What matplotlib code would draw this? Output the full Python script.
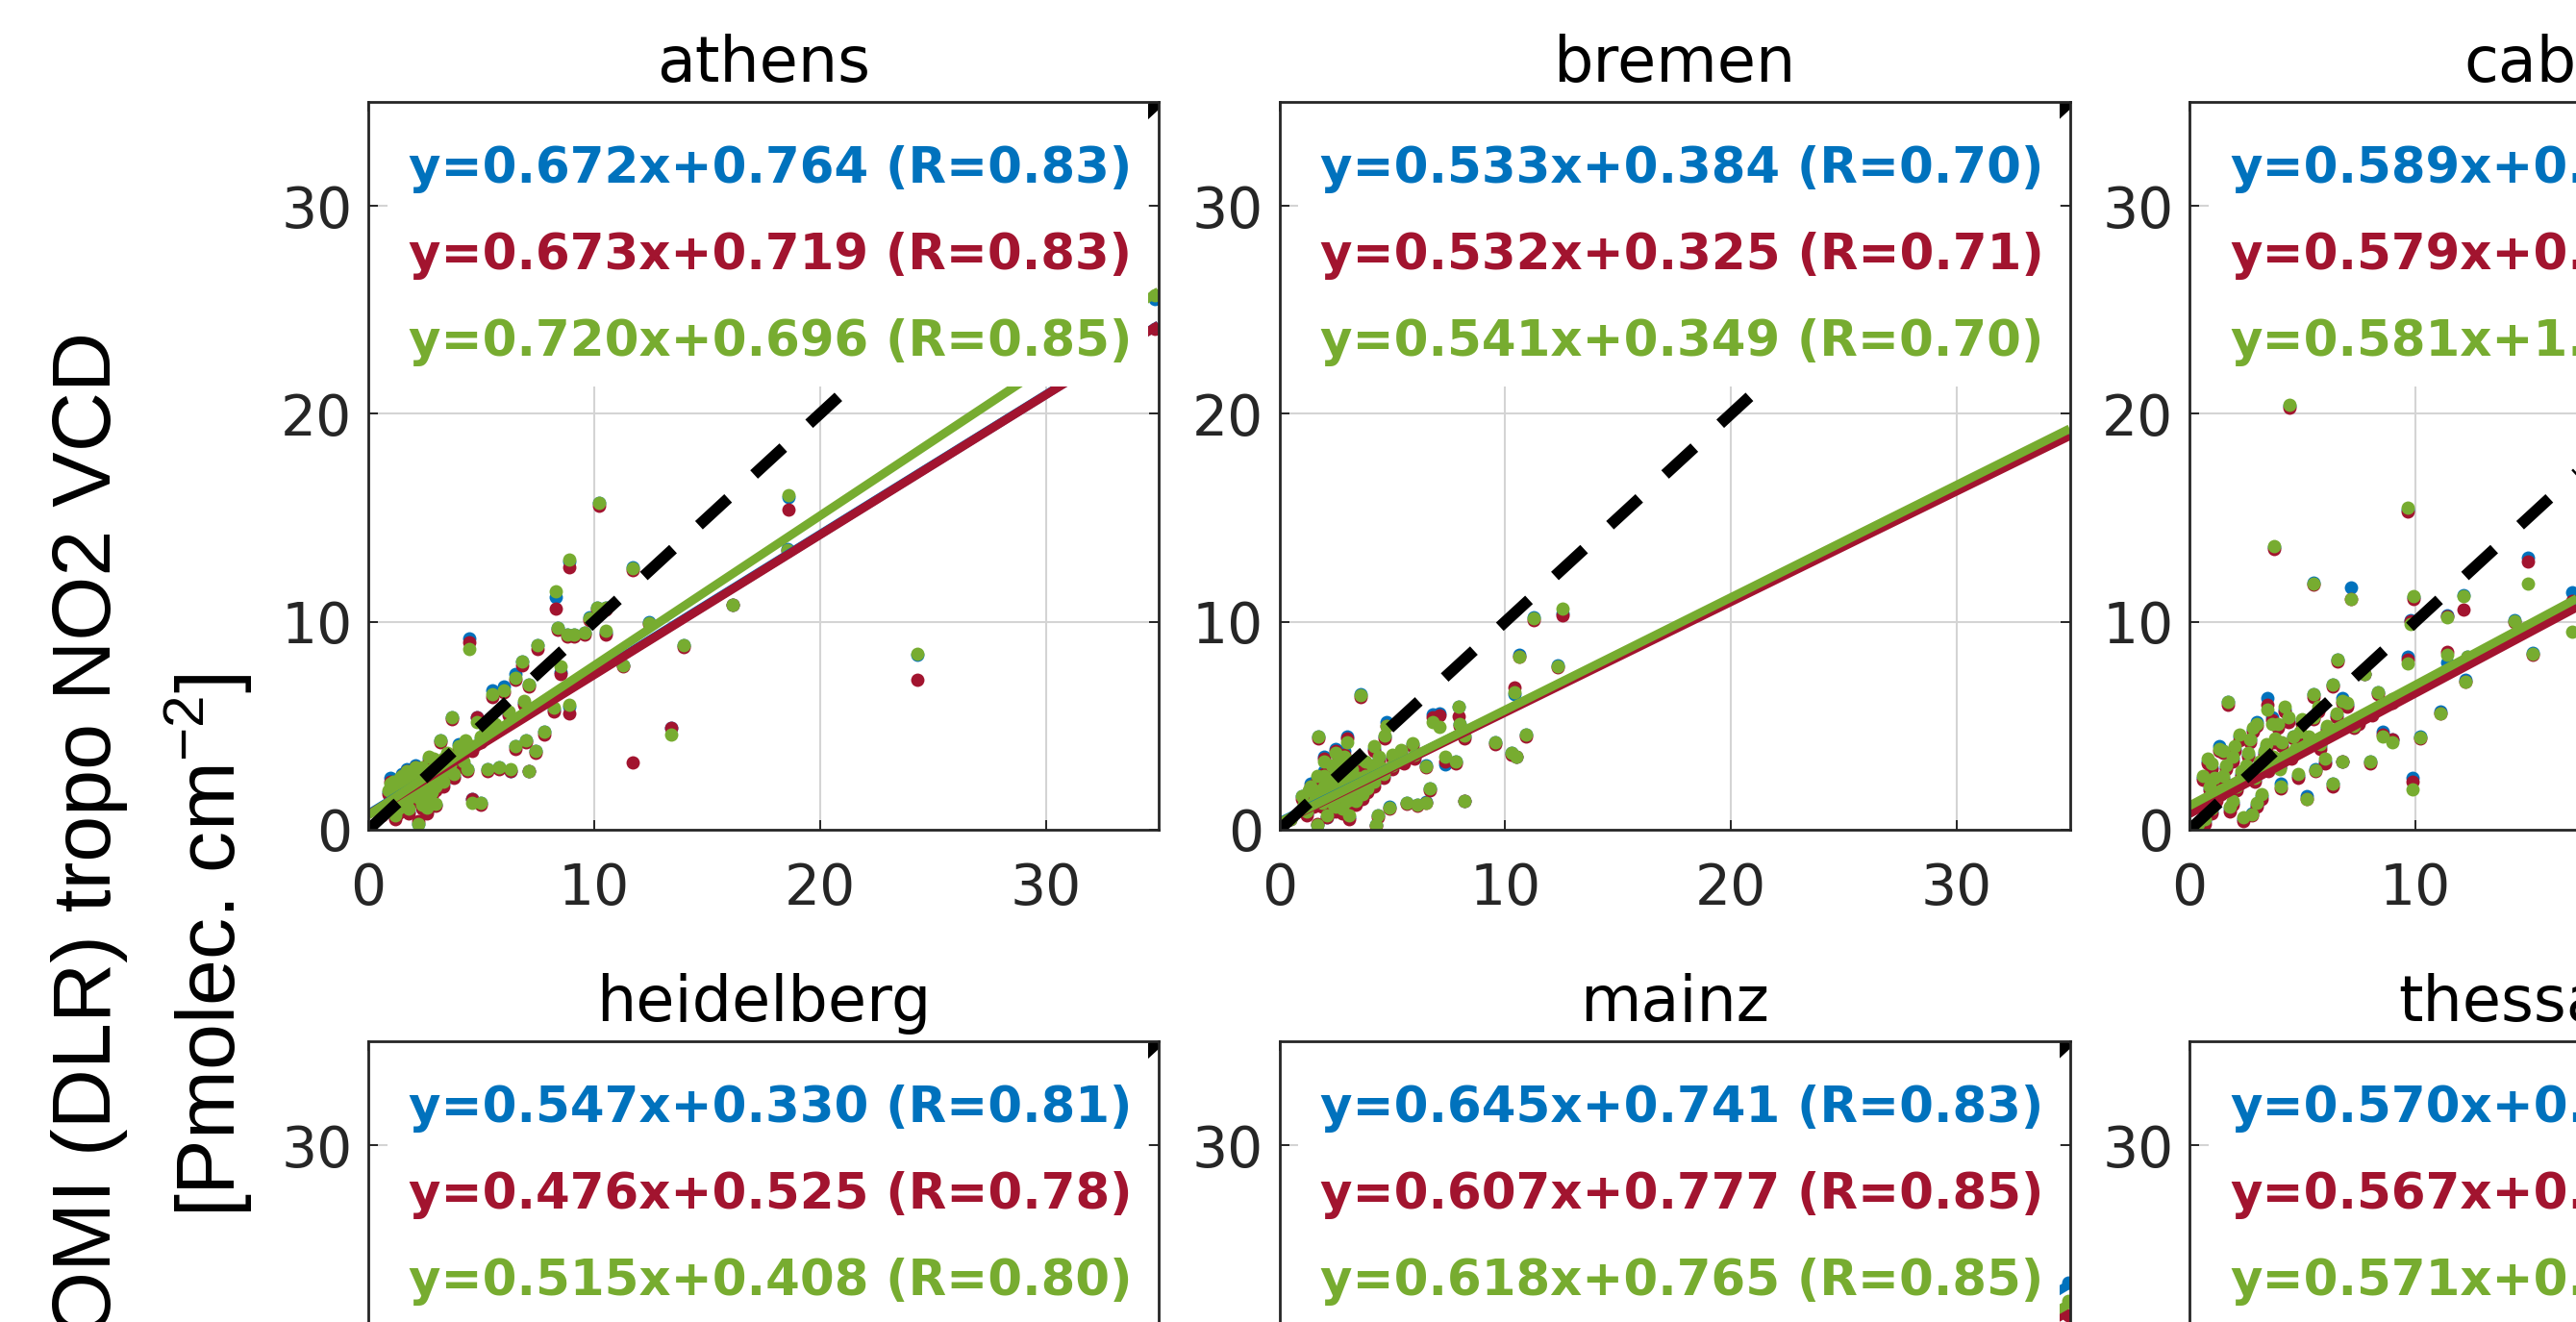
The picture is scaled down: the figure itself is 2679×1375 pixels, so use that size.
import numpy as np
import matplotlib
matplotlib.use('Agg')
import matplotlib.pyplot as plt
from matplotlib.patches import Rectangle

# ---- data -----------------------------------------------------------------
# each site: x, then y for the three series (blue, red, green)
athens_x = [0.8, 1.0, 1.1, 1.2, 1.3, 1.4, 1.5, 1.6, 1.7, 1.8, 1.9, 2.0, 2.1, 2.2,
            2.3, 2.4, 2.5, 2.6, 2.7, 2.8, 2.9, 3.0, 3.1, 3.2, 3.3, 3.5, 3.7, 3.8,
            4.0, 4.2, 4.4, 4.48, 4.6, 4.8, 5.0, 5.0, 5.3, 5.5, 5.8, 6.0, 6.3, 6.5,
            6.5, 6.8, 7.0, 7.1, 7.1, 7.4, 7.5, 7.8, 8.2, 8.3, 8.4, 8.5, 8.8, 8.9,
            8.9, 9.1, 9.6, 9.8, 10.15, 10.23, 10.5, 10.5, 11.3, 11.7, 11.7, 12.45,
            13.4, 13.95, 16.15, 18.6, 18.55, 24.3, 34.85,
            0.6, 0.9, 1.0, 1.1, 1.2, 1.3, 1.4, 1.5, 1.6, 1.7, 1.8, 1.9, 2.0, 2.1,
            2.2, 2.3, 2.4, 2.5, 2.6, 2.7, 2.8, 2.9, 3.0, 3.1, 3.3, 3.4, 3.6, 3.9,
            4.1, 4.3, 4.6, 5.2, 5.6, 6.2, 6.9]
athens_blue = [1.0, 2.5, 1.5, 0.6, 2.0, 1.2, 2.7, 1.8, 2.9, 0.9, 2.3, 1.5, 3.1, 0.3,
               2.0, 1.1, 2.6, 0.9, 3.4, 1.7, 2.4, 1.2, 3.0, 4.3, 2.2, 3.6, 5.4, 2.6,
               4.1, 3.2, 2.9, 9.2, 1.5, 5.4, 1.3, 4.4, 2.9, 6.7, 3.0, 6.9, 2.8, 4.0,
               7.5, 8.1, 4.3, 7.0, 2.8, 3.8, 8.9, 4.7, 5.8, 11.2, 9.7, 7.6, 9.4, 12.9,
               5.9, 9.4, 9.5, 10.2, 10.7, 15.7, 9.5, 10.7, 7.9, np.nan, 12.6, 10.0,
               4.9, 8.9, 10.8, 16.0, 13.5, 8.4, 25.5,
               0.8, 1.8, 1.2, 2.2, 1.7, 0.9, 2.4, 1.6, 2.1, 1.3, 1.9, 2.7, 2.2, 1.8,
               2.5, 1.4, 2.9, 1.9, 2.3, 1.5, 2.8, 3.3, 2.0, 2.6, 3.3, 2.7, 3.0, 3.4,
               3.7, 4.2, 3.9, 4.8, 5.0, 5.6, 6.1]
athens_red = [0.9, 2.3, 1.4, 0.5, 1.9, 1.1, 2.6, 1.7, 2.8, 0.8, 2.2, 1.4, 3.0, 0.4,
              1.9, 1.0, 2.5, 0.8, 3.3, 1.6, 2.2, 1.15, 2.9, 4.2, 2.1, 3.5, 5.3, 2.5,
              3.9, 3.0, 2.8, 9.0, 1.5, 5.4, 1.2, 4.2, 2.8, 6.4, 2.9, 6.6, 2.8, 3.9,
              7.2, 7.9, 4.2, 6.9, 2.8, 3.7, 8.7, 4.6, 5.7, 10.65, 9.6, 7.5, 9.3, 12.6,
              5.6, 9.3, 9.4, 10.1, 10.6, 15.6, 9.4, 10.6, 7.85, 3.22, 12.5, 9.9,
              4.9, 8.8, 10.8, 15.4, 13.4, 7.2, 24.1,
              0.7, 1.7, 1.1, 2.1, 1.6, 0.8, 2.3, 1.5, 2.0, 1.2, 1.8, 2.6, 2.1, 1.7,
              2.4, 1.3, 2.8, 1.8, 2.2, 1.4, 2.7, 3.2, 1.9, 2.5, 3.2, 2.6, 2.9, 3.3,
              3.6, 4.1, 3.8, 4.7, 4.9, 5.5, 6.0]
athens_green = [1.0, 2.2, 1.6, 0.7, 2.0, 1.3, 2.6, 1.9, 2.8, 1.0, 2.4, 1.6, 3.0, 0.3,
                2.1, 1.2, 2.7, 1.05, 3.5, 1.8, 2.5, 1.25, 3.1, 4.3, 2.3, 3.7, 5.4, 2.7,
                4.0, 3.3, 2.9, 8.7, 1.3, 5.2, 1.3, 4.5, 2.9, 6.5, 3.0, 6.7, 2.9, 4.0,
                7.3, 8.1, 4.3, 7.0, 2.8, 3.8, 8.9, 4.7, 5.85, 11.45, 9.7, 7.85, 9.4, 13.0,
                6.0, 9.4, 9.5, 10.15, 10.7, 15.7, 9.55, 10.7, 7.9, np.nan, 12.56, 9.95,
                4.6, 8.9, 10.84, 16.1, 13.46, 8.45, 25.7,
                0.9, 1.9, 1.3, 2.3, 1.8, 1.0, 2.5, 1.7, 2.2, 1.4, 2.0, 2.8, 2.3, 1.9,
                2.6, 1.5, 3.0, 2.0, 2.4, 1.6, 2.9, 3.4, 2.1, 2.7, 3.4, 2.8, 3.1, 3.5,
                3.8, 4.3, 4.0, 4.9, 5.1, 5.7, 6.2]

bremen_x = [0.5, 1.0, 1.2, 1.4, 1.5, 1.68, 1.72, 1.8, 2.0, 2.1, 2.2, 2.3, 2.4, 2.5,
            2.6, 2.7, 2.87, 2.9, 3.0, 3.1, 3.2, 3.3, 3.5, 3.6, 3.7, 3.8, 4.0, 4.2,
            4.3, 4.38, 4.5, 4.66, 4.73, 4.87, 5.0, 5.37, 5.65, 5.9, 6.1, 6.5, 6.5,
            6.65, 6.8, 7.1, 7.36, 7.8, 7.93, 8.0, 8.21, 8.21, 9.54, 10.3, 10.4,
            10.63, 10.5, 10.92, 11.27, 12.31, 12.55,
            1.1, 1.3, 1.6, 1.7, 1.9, 2.0, 2.2, 2.3, 2.4, 2.5, 2.6, 2.7, 2.8, 2.9,
            3.0, 3.1, 3.2, 3.3, 3.4, 3.5, 3.6, 3.8, 3.9, 4.1, 4.2, 4.4, 4.6, 5.0,
            5.5, 6.0, 2.0, 2.5, 3.0]
bremen_blue = [0.5, 1.6, 0.8, 2.2, 1.2, 0.22, 4.5, 1.9, 2.8, 0.6, 1.4, 3.0, 2.0, 1.0,
               3.6, 1.7, 3.8, 2.4, 1.3, 0.6, 2.8, 1.9, 2.8, 6.5, 1.6, 3.2, 2.3, 3.9,
               0.22, 0.7, 2.9, 4.5, 5.2, 1.1, 3.5, 3.8, 1.3, 4.1, 1.2, 1.35, 3.1,
               2.0, 5.55, 5.6, 3.15, 3.3, 5.9, 5.1, 1.4, 4.5, 4.2, 3.7, 6.5,
               8.4, 3.5, 4.6, 10.2, 7.9, 10.4,
               1.1, 1.8, 1.4, 2.5, 1.2, 2.0, 2.3, 1.7, 1.1, 2.7, 1.5, 2.2, 0.9, 1.9,
               2.6, 1.6, 3.2, 2.3, 1.3, 2.0, 3.3, 2.5, 1.9, 3.0, 2.2, 3.4, 2.6, 3.0,
               3.3, 3.5, 3.5, 3.9, 4.5]
bremen_red = [0.5, 1.5, 0.7, 2.1, 1.1, 0.3, 4.4, 1.8, 2.7, 0.6, 1.3, 2.9, 1.9, 0.9,
              3.4, 1.6, 3.6, 2.3, 1.2, 0.5, 2.7, 1.8, 2.6, 6.4, 1.5, 3.1, 2.2, 3.8,
              0.2, 0.6, 2.8, 4.4, 5.0, 1.0, 3.4, 3.7, 1.25, 4.0, 1.15, 1.3, 3.0,
              1.9, 5.4, 5.5, 3.3, 3.2, 5.45, 5.0, 1.4, 4.4, 4.1, 3.6, 6.84,
              8.3, 3.5, 4.5, 10.1, 7.8, 10.3,
              1.0, 1.7, 1.3, 2.4, 1.1, 1.9, 2.2, 1.6, 1.0, 2.6, 1.4, 2.1, 0.8, 1.8,
              2.5, 1.5, 3.1, 2.2, 1.2, 1.9, 3.2, 2.4, 1.8, 2.9, 2.1, 3.3, 2.5, 2.9,
              3.2, 3.4, 3.4, 3.8, 4.4]
bremen_green = [0.5, 1.6, 0.9, 2.1, 1.3, 0.22, 4.47, 1.9, 2.6, 0.7, 1.5, 3.1, 2.0, 1.1,
                3.3, 1.8, 3.5, 2.5, 1.4, 0.7, 2.9, 2.0, 2.5, 6.46, 1.7, 3.3, 2.4, 4.0,
                0.22, 0.68, 3.0, 4.53, 4.99, 1.06, 3.6, 3.84, 1.3, 4.14, 1.2, 1.3, 3.07,
                1.99, 5.2, 4.94, 3.53, 3.3, 5.92, 5.1, 1.38, 4.51, 4.22, 3.7, 6.61,
                8.34, 3.53, 4.56, 10.19, 7.87, 10.62,
                1.2, 1.9, 1.5, 2.6, 1.3, 2.1, 2.4, 1.8, 1.2, 2.8, 1.6, 2.3, 1.0, 2.0,
                2.7, 1.7, 3.3, 2.4, 1.4, 2.1, 3.4, 2.6, 2.0, 3.1, 2.3, 3.5, 2.7, 3.1,
                3.4, 3.6, 3.3, 3.7, 4.2]

cabauw_x = [0.5, 0.7, 0.9, 1.0, 1.2, 1.3, 1.5, 1.5, 1.7, 1.8, 1.9, 2.1, 2.2, 2.4,
            2.5, 2.7, 2.78, 2.9, 3.0, 3.2, 3.3, 3.45, 3.5, 3.66, 3.76, 3.8, 4.0,
            4.03, 4.2, 4.42, 4.5, 4.6, 4.8, 5.0, 5.2, 5.5, 5.5, 5.51, 5.56, 5.8,
            6.0, 6.36, 6.36, 6.56, 6.76, 6.76, 7.14, 7.3, 7.73, 8.0, 8.35, 8.56,
            8.97, 9.67, 9.67, 9.78, 9.86, 9.94, 10.24, 11.1, 11.42, 11.42, 12.12,
            12.2, 12.3, 14.41, 14.99, 15.19, 16.95,
            0.6, 0.8, 1.1, 1.4, 1.6, 2.0, 2.3, 2.6, 2.8, 3.1, 3.4, 3.7, 3.9, 4.1,
            4.4, 4.7, 4.9, 5.3, 5.7, 6.1, 6.5, 7.0, 7.5, 8.1, 9.0, 1.0, 1.9, 3.0, 0.4]
cabauw_blue = [1.2, 0.4, 2.0, 3.0, 1.5, 4.0, 3.8, 2.5, 6.15, 1.0, 3.4, 2.0, 4.5, 0.5,
               3.0, 4.35, 0.8, 2.4, 5.2, 1.6, 3.7, 6.33, 2.9, 5.4, 13.6, 4.3, 3.0,
               2.2, 5.8, 20.4, 3.5, 4.5, 2.6, 5.2, 1.6, 6.5, 5.4, 11.9, 2.9, 4.0,
               3.3, 7.0, 2.2, 8.2, 6.33, 3.3, 11.63, 5.0, 7.5, 3.3, 6.6, 4.7,
               4.35, 15.4, 8.3, 10.1, 2.48, 11.2, 4.5, 5.7, 10.3, 8.05, 11.3,
               7.2, 8.3, 10.1, 13.09, 8.5, 11.42,
               2.5, 3.3, 2.4, 1.8, 3.0, 3.9, 2.7, 3.6, 4.8, 3.2, 4.0, 3.4, 5.0, 4.1,
               5.3, 3.8, 4.6, 4.4, 5.8, 4.9, 5.5, 6.0, 5.2, 5.6, 6.2, 0.9, 1.3, 1.2, 0.2]
cabauw_red = [1.1, 0.3, 1.9, 2.9, 1.4, 3.8, 3.7, 2.4, 6.0, 0.9, 3.3, 1.9, 4.3, 0.4,
              2.9, 4.2, 0.7, 2.3, 5.0, 1.5, 3.6, 6.0, 2.8, 5.27, 13.5, 4.2, 3.0,
              2.0, 5.7, 20.3, 3.4, 4.4, 2.5, 5.1, 1.5, 6.4, 5.3, 11.8, 2.8, 3.9,
              3.2, 6.9, 2.1, 8.1, 6.1, 3.27, 11.1, 4.9, 7.48, 3.2, 6.5, 4.6,
              4.34, 15.3, 8.18, 10.04, 2.3, 11.1, 4.4, 5.6, 10.27, 8.55, 10.6,
              7.1, 8.2, 10.0, 12.9, 8.4, 11.0,
              2.4, 3.2, 2.3, 1.7, 2.9, 3.8, 2.6, 3.5, 4.7, 3.1, 3.9, 3.3, 4.9, 4.0,
              5.2, 3.7, 4.5, 4.3, 5.7, 4.8, 5.4, 5.9, 5.1, 5.5, 6.1, 0.8, 1.2, 1.1, 0.1]
cabauw_green = [1.3, 0.5, 2.1, 3.2, 1.6, 3.9, 3.8, 2.6, 6.15, 1.1, 3.5, 2.1, 4.6, 0.6,
                3.1, 4.35, 0.75, 2.5, 5.1, 1.7, 3.8, 5.8, 3.0, 5.1, 13.62, 4.4, 2.9,
                2.1, 5.9, 20.44, 3.6, 4.47, 2.7, 5.3, 1.5, 6.5, 5.4, 11.85, 2.86, 4.1,
                3.4, 7.0, 2.2, 8.18, 6.2, 3.27, 11.1, 5.0, 7.48, 3.27, 6.6, 4.5,
                4.2, 15.49, 8.0, 9.9, 1.95, 11.23, 4.45, 5.61, 10.2, 8.4, 11.23,
                7.12, 8.3, 10.04, 11.85, 8.45, 9.51,
                2.6, 3.4, 2.5, 1.9, 3.1, 4.0, 2.8, 3.7, 4.9, 3.3, 4.1, 3.5, 5.1, 4.2,
                5.4, 3.9, 4.7, 4.5, 5.9, 5.0, 5.6, 6.1, 5.3, 5.7, 6.3, 1.0, 1.4, 1.3, 0.3]

# mainz: only the points at the right edge show in the crop
mainz_x = [34.95]
mainz_blue = [23.4]
mainz_red = [21.8]
mainz_green = [22.5]

# fit lines (slope, intercept) for blue, red, green
athens_fit = [(0.672, 0.764), (0.673, 0.719), (0.720, 0.696)]
bremen_fit = [(0.533, 0.384), (0.532, 0.325), (0.541, 0.349)]
cabauw_fit = [(0.589, 0.85), (0.579, 0.77), (0.581, 1.15)]
heidelberg_fit = [(0.547, 0.330), (0.476, 0.525), (0.515, 0.408)]
mainz_fit = [(0.645, 0.741), (0.607, 0.777), (0.618, 0.765)]
thessaloniki_fit = [(0.570, 0.5), (0.567, 0.5), (0.571, 0.5)]

athens_labels = ['y=0.672x+0.764 (R=0.83)', 'y=0.673x+0.719 (R=0.83)', 'y=0.720x+0.696 (R=0.85)']
bremen_labels = ['y=0.533x+0.384 (R=0.70)', 'y=0.532x+0.325 (R=0.71)', 'y=0.541x+0.349 (R=0.70)']
cabauw_labels = ['y=0.589x+0.', 'y=0.579x+0.', 'y=0.581x+1.']
heidelberg_labels = ['y=0.547x+0.330 (R=0.81)', 'y=0.476x+0.525 (R=0.78)', 'y=0.515x+0.408 (R=0.80)']
mainz_labels = ['y=0.645x+0.741 (R=0.83)', 'y=0.607x+0.777 (R=0.85)', 'y=0.618x+0.765 (R=0.85)']
thessaloniki_labels = ['y=0.570x+0.', 'y=0.567x+0.', 'y=0.571x+0.']

titles = ['athens', 'bremen', 'cabauw', 'heidelberg', 'mainz', 'thessaloniki']
ticks = [0, 10, 20, 30]

# ---- figure ---------------------------------------------------------------
plt.rcParams['font.family'] = 'DejaVu Sans'
plt.rcParams['mathtext.fontset'] = 'custom'
plt.rcParams['mathtext.rm'] = 'Liberation Sans'

W, H = 2679, 1375
fig = plt.figure(figsize=(W / 100, H / 100), dpi=100)

colors = ['#0072BD', '#A2142F', '#77AC30']
col_left = [383, 1330.5, 2277]
row_top = [106, 1083]
ax_w, ax_h = 822, 757

panels = [
    (athens_x, [athens_blue, athens_red, athens_green], athens_fit, athens_labels),
    (bremen_x, [bremen_blue, bremen_red, bremen_green], bremen_fit, bremen_labels),
    (cabauw_x, [cabauw_blue, cabauw_red, cabauw_green], cabauw_fit, cabauw_labels),
    ([], [[], [], []], heidelberg_fit, heidelberg_labels),
    (mainz_x, [mainz_blue, mainz_red, mainz_green], mainz_fit, mainz_labels),
    ([], [[], [], []], thessaloniki_fit, thessaloniki_labels),
]

label_y = [31.1, 26.95, 22.8]

for i, (xs, ys, fits, labels) in enumerate(panels):
    left = col_left[i % 3]
    top = row_top[i // 3]
    ax = fig.add_axes([left / W, 1 - (top + ax_h) / H, ax_w / W, ax_h / H])
    ax.set_xlim(0, 35)
    ax.set_ylim(0, 35)

    # grid drawn by hand so the label box can hide it
    for g in ticks[1:]:
        ax.axvline(g, color='#d4d4d4', lw=1.5, zorder=0.5)
        ax.axhline(g, color='#d4d4d4', lw=1.5, zorder=0.5)

    for y, c in zip(ys, colors):
        ax.scatter(xs, y, s=100, color=c, linewidths=0, zorder=1)

    xx = np.array([0, 35])
    for (a, b), c in zip(fits, colors):
        ax.plot(xx, a * xx + b, color=c, lw=6.5, solid_capstyle='butt', zorder=1.5)
    ax.plot(xx, xx, color='k', lw=8.5, dashes=(3.5, 3.1), dash_capstyle='butt', zorder=1.8)

    # white box behind the fit equations
    ax.add_patch(Rectangle((0.85, 21.3), 34.55 - 0.85, 14, facecolor='white',
                           edgecolor='none', zorder=2.3))
    for lab, yy, c in zip(labels, label_y, colors):
        ax.text(1.8, yy, lab, color=c, fontsize=37, fontweight='bold', zorder=3)

    ax.set_title(titles[i], fontsize=47, pad=15)
    ax.set_xticks(ticks)
    ax.set_yticks(ticks)
    ax.tick_params(direction='in', length=7, width=1.4, top=True, right=True,
                   labelsize=42, colors='#262626')
    ax.tick_params(axis='x', pad=24)
    ax.tick_params(axis='y', pad=12)
    for sp in ax.spines.values():
        sp.set_color('#262626')
        sp.set_linewidth(2)

fig.text(115 / W, 1 - 345 / H, 'OMI (DLR) tropo NO2 VCD', rotation=90,
         rotation_mode='anchor', ha='right', va='baseline',
         family='Liberation Sans', fontsize=62)
fig.text(245 / W, 1 - 700 / H, '[Pmolec. cm$^{-2}$]', rotation=90,
         rotation_mode='anchor', ha='right', va='baseline',
         family='Liberation Sans', fontsize=62)

fig.savefig('out.png', dpi=100)
